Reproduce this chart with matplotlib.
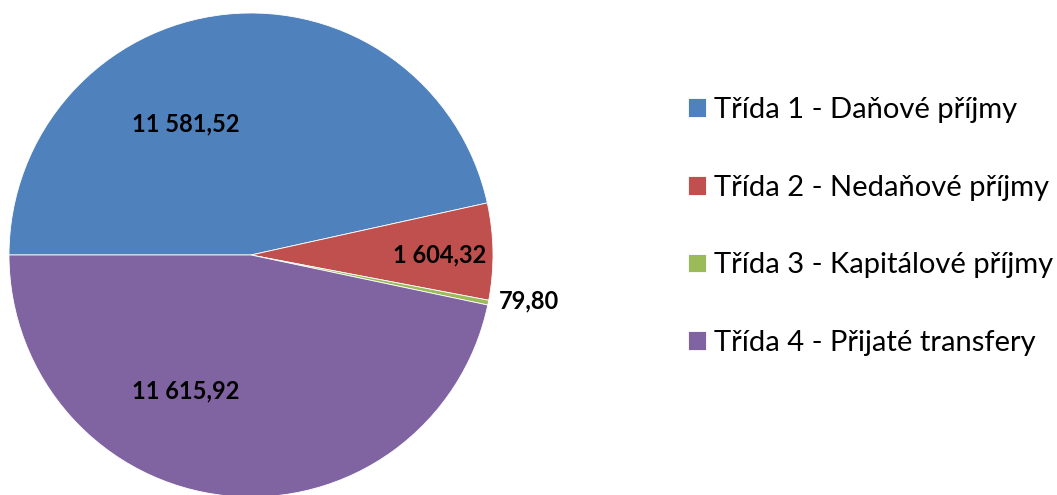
import matplotlib
matplotlib.use('Agg')
import matplotlib.pyplot as plt

plt.rcParams['font.family'] = ['Lato', 'DejaVu Sans']

tridy = ['Třída 1 - Daňové příjmy', 'Třída 2 - Nedaňové příjmy',
         'Třída 3 - Kapitálové příjmy', 'Třída 4 - Přijaté transfery']
hodnoty = [11581.52, 1604.32, 79.80, 11615.92]
barvy = ['#4F81BD', '#C0504D', '#9BBB59', '#8064A2']
# pozice popisku (x, y) v jednotkach polomeru
popisky_pos = [(-0.27, 0.54), (0.78, 0.0), (1.15, -0.19), (-0.27, -0.56)]


def cz_format(v):
    s = '{:,.2f}'.format(v)
    return s.replace(',', ' ').replace('.', ',')


W, H = 1057, 495
fig = plt.figure(figsize=(W / 100, H / 100), dpi=100)
cx, cy, r = 251, 255, 242
ax = fig.add_axes([(cx - r) / W, (H - cy - r) / H, 2 * r / W, 2 * r / H])

wedges, _ = ax.pie(hodnoty, colors=barvy, startangle=180, counterclock=False,
                   radius=1, wedgeprops={'edgecolor': 'white', 'linewidth': 0.6})
ax.set_xlim(-1, 1)
ax.set_ylim(-1, 1)
ax.set_aspect('equal')
ax.axis('off')

for v, (x, y) in zip(hodnoty, popisky_pos):
    ax.text(x, y, cz_format(v), ha='center', va='center', fontsize=17,
            fontweight='bold', color='black')

fig.legend(wedges, tridy, loc='upper left', bbox_to_anchor=(688 / W, 1 - 97 / H),
           frameon=False, fontsize=21, handlelength=0.6, handleheight=0.6,
           handletextpad=0.3, labelspacing=1.77, borderpad=0, borderaxespad=0)

fig.savefig('out.png', dpi=100)
